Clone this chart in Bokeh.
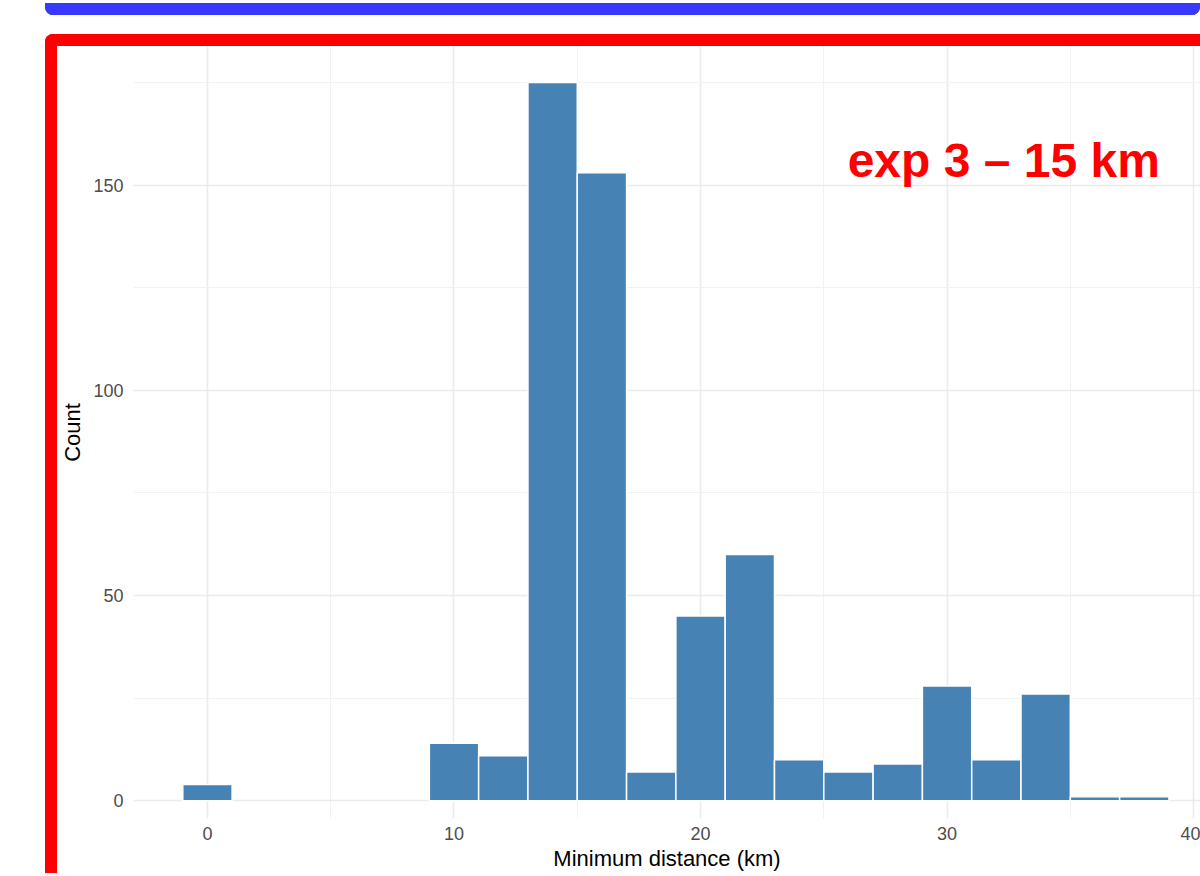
from bokeh.plotting import figure
from bokeh.models import Range1d, FixedTicker, Label, Div
from bokeh.layouts import column
from bokeh.embed import file_html
from bokeh.resources import INLINE

# ---- data ----
bin_centers = [0, 10, 12, 14, 16, 18, 20, 22, 24, 26, 28, 30, 32, 34, 36, 38]
counts = [4, 14, 11, 175, 153, 7, 45, 60, 10, 7, 9, 28, 10, 26, 1, 1]
bin_width = 2
x_major = [0, 10, 20, 30, 40]
x_minor = [-5, 5, 15, 25, 35]
y_major = [0, 50, 100, 150]
y_minor = [25, 75, 125, 175]
title_text = "exp 3 \u2013 15 km"
x_label = "Minimum distance (km)"
y_label = "Count"

FONT = "Liberation Sans"

blue = Div(text="", width=1155, height=0,
           styles={"border": "12px solid #3838ff", "border-top": "none",
                   "border-radius": "0 0 8px 8px", "margin-left": "45px",
                   "margin-top": "3px", "box-sizing": "border-box"})

p = figure(width=1143, height=827, output_backend="svg", toolbar_location=None,
           x_range=Range1d(-3, 40.28), y_range=Range1d(-4.3, 183.75),
           min_border_left=70, min_border_right=0, min_border_top=0, min_border_bottom=0)

p.background_fill_color = "white"
p.border_fill_color = "white"
p.outline_line_color = None

p.vbar(x=bin_centers, top=counts, width=bin_width, bottom=0,
       fill_color="#4682b4", line_color="white", line_width=1.5)

p.xaxis.ticker = FixedTicker(ticks=x_major, minor_ticks=x_minor)
p.yaxis.ticker = FixedTicker(ticks=y_major, minor_ticks=y_minor)

for ax in (p.xaxis, p.yaxis):
    ax.axis_line_color = None
    ax.major_tick_line_color = None
    ax.minor_tick_line_color = None
    ax.major_tick_out = 0
    ax.minor_tick_out = 0
    ax.major_label_text_font = FONT
    ax.major_label_text_font_size = "18px"
    ax.major_label_text_color = "#4d4d4d"
    ax.axis_label_text_font = FONT
    ax.axis_label_text_font_size = "22px"
    ax.axis_label_text_font_style = "normal"
    ax.axis_label_text_color = "black"

p.xaxis.axis_label = x_label
p.yaxis.axis_label = y_label
p.xaxis.major_label_standoff = 8
p.xaxis.axis_label_standoff = 3
p.yaxis.major_label_standoff = 10
p.yaxis.axis_label_standoff = 5

for g in (p.xgrid, p.ygrid):
    g.grid_line_color = "#ebebeb"
    g.grid_line_width = 1.6
    g.minor_grid_line_color = "#f2f2f2"
    g.minor_grid_line_width = 1.0

p.add_layout(Label(x=32.3, y=156.1, text=title_text, text_align="center",
                   text_baseline="alphabetic", text_font=FONT, text_font_size="48px",
                   text_font_style="bold", text_color="#ff0000"))

red_box = column(p, spacing=0,
                 styles={"border-top": "12px solid #ff0000", "border-left": "12px solid #ff0000",
                         "border-top-left-radius": "8px", "margin-left": "45px",
                         "margin-top": "14px", "box-sizing": "content-box"})

layout = column(blue, red_box, spacing=0)

with open("out.html", "w") as f:
    f.write(file_html(layout, INLINE))
